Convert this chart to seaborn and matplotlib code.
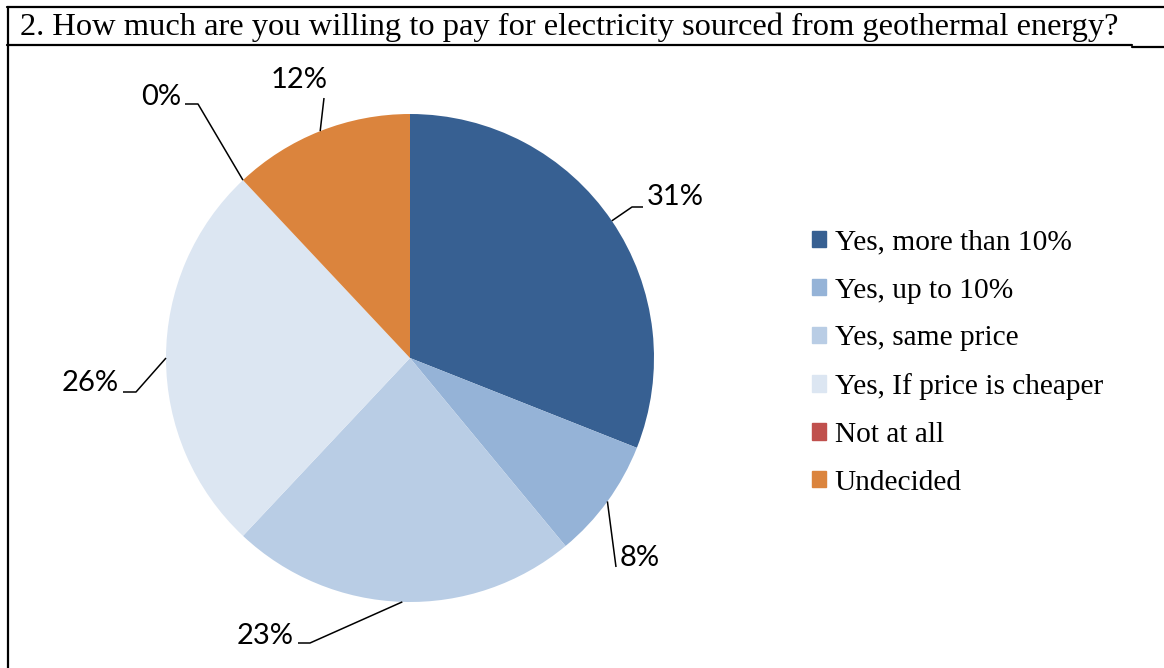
import numpy as np
import matplotlib
matplotlib.use("Agg")
import matplotlib.pyplot as plt
from matplotlib.lines import Line2D
import seaborn as sns

# ---- data ----
categories = ["Yes, more than 10%", "Yes, up to 10%", "Yes, same price",
              "Yes, If price is cheaper", "Not at all", "Undecided"]
shares = [31, 8, 23, 26, 0, 12]
pct_labels = ["31%", "8%", "23%", "26%", "0%", "12%"]
colors = ["#376092", "#95B3D7", "#B9CDE5", "#DCE6F2", "#C0504D", "#DB843D"]
title = "2. How much are you willing to pay for electricity sourced from geothermal energy?"

sns.set_theme(style="white")
palette = sns.color_palette(colors)

W, H = 1164, 668
fig = plt.figure(figsize=(W / 100, H / 100), dpi=100)
ax = fig.add_axes([0, 0, 1, 1])

def py(y):  # pixel-from-top -> data y
    return H - y

cx, cy, R = 410, py(358), 244
wedges, _ = ax.pie(shares, colors=palette, startangle=90, counterclock=False,
                   center=(cx, cy), radius=R, wedgeprops=dict(linewidth=0))
ax.set_xlim(0, W)
ax.set_ylim(0, H)
ax.set_aspect("auto")
ax.axis("off")

# label layout: (elbow points in pixels from anchor outward, text pos, ha)
layout = [
    ([(632, 207), (643, 207)], (647, 197), "left"),   # 31%
    ([(616, 567)], (620, 558), "left"),               # 8%
    ([(310, 643), (298, 643)], (294, 636), "right"),  # 23%
    ([(136, 392), (123, 392)], (119, 383), "right"),  # 26%
    ([(198, 104), (185, 104)], (181, 97), "right"),   # 0%
    ([(324, 98)], (299, 80), "center"),               # 12%
]
label_font = dict(family=["Lato", "DejaVu Sans"], size=21, color="black")
for w, lab, (pts, tpos, ha) in zip(wedges, pct_labels, layout):
    if w.theta2 - w.theta1 < 1e-6:
        ang = np.deg2rad(w.theta1)
    else:
        ang = np.deg2rad((w.theta1 + w.theta2) / 2)
    ax0 = cx + R * np.cos(ang)
    ay0 = cy + R * np.sin(ang)
    xs = [ax0] + [p[0] for p in pts]
    ys = [ay0] + [py(p[1]) for p in pts]
    ax.plot(xs, ys, color="black", lw=1.1, solid_capstyle="butt")
    ax.text(tpos[0], py(tpos[1]), lab, ha=ha, va="center", **label_font)

# legend
handles = [plt.Rectangle((0, 0), 1, 1, color=c) for c in palette]
leg = ax.legend(handles, categories, loc="upper left",
                bbox_to_anchor=(797 / W, 1 - 215 / H), frameon=False,
                prop=dict(family="Liberation Serif", size=21.2),
                labelcolor="black",
                handlelength=0.48, handleheight=0.48, handletextpad=0.3,
                labelspacing=0.74, borderpad=0)

# table frame and title
lw = 1.6
ax.add_line(Line2D([7, W], [py(7), py(7)], color="black", lw=lw))
ax.add_line(Line2D([8, 8], [py(7), 0], color="black", lw=lw))
ax.add_line(Line2D([7, 1132], [py(45), py(45)], color="black", lw=lw))
ax.add_line(Line2D([1132, W], [py(46.5), py(46.5)], color="black", lw=lw))
ax.text(20, py(27), title, ha="left", va="center",
        family="Liberation Serif", size=23.4, color="black")

fig.savefig("out.png", dpi=100)
